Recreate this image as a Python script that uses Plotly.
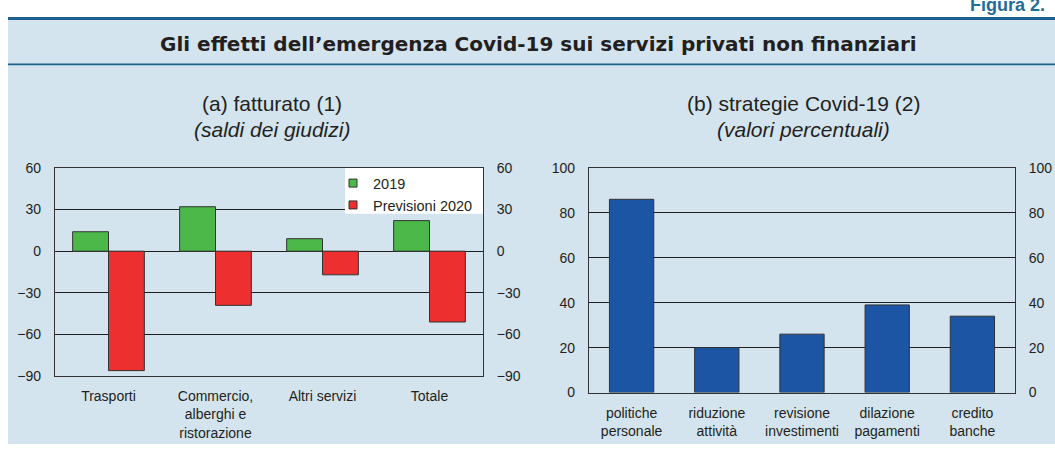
import plotly.graph_objects as go

# ---- data ----
cat_left = ["Trasporti", "Commercio,<br>alberghi e<br>ristorazione", "Altri servizi", "Totale"]
val_2019 = [14, 32, 9, 22]
val_2020 = [-86, -39, -17, -51]
left_ticks = [-90, -60, -30, 0, 30, 60]

cat_right = ["politiche<br>personale", "riduzione<br>attività", "revisione<br>investimenti",
             "dilazione<br>pagamenti", "credito<br>banche"]
val_right = [86, 20, 26, 39, 34]
right_ticks = [0, 20, 40, 60, 80, 100]

W, H = 1055, 452
def fx(p):
    return p / W
def fy(p):
    return 1 - p / H

# plot-area pixel boxes
L_X0, L_X1, L_Y0, L_Y1 = 55, 483, 165.7, 381.7
R_X0, R_X1, R_Y0, R_Y1 = 589, 1015, 165.7, 398.7

GREEN = "#4db84a"
RED = "#ee2f2f"
BLUE = "#1c55a3"
BG = "#d3e4ee"
EDGE = "#333333"
TXT = "#231f20"
RULE = "#1d5f8d"
FONT = "Liberation Sans, Arial, sans-serif"

fig = go.Figure()
fig.add_trace(go.Bar(x=cat_left, y=val_2019, name="2019", marker=dict(color=GREEN, line=dict(color=EDGE, width=1)),
                     xaxis="x", yaxis="y", showlegend=False, hoverinfo="skip"))
fig.add_trace(go.Bar(x=cat_left, y=val_2020, name="Previsioni 2020", marker=dict(color=RED, line=dict(color=EDGE, width=1)),
                     xaxis="x", yaxis="y", showlegend=False, hoverinfo="skip"))
# legend entries (square markers)
fig.add_trace(go.Scatter(x=[None], y=[None], mode="markers", name="2019",
                         marker=dict(symbol="square", size=8, color=GREEN, line=dict(color=EDGE, width=1)),
                         xaxis="x", yaxis="y"))
fig.add_trace(go.Scatter(x=[None], y=[None], mode="markers", name="Previsioni 2020",
                         marker=dict(symbol="square", size=8, color=RED, line=dict(color=EDGE, width=1)),
                         xaxis="x", yaxis="y"))
fig.add_trace(go.Bar(x=cat_right, y=val_right, width=0.52, marker=dict(color=BLUE, line=dict(color=EDGE, width=1)),
                     xaxis="x2", yaxis="y2", showlegend=False, hoverinfo="skip"))
# invisible helpers so the right-hand (mirror) axes are drawn
fig.add_trace(go.Scatter(x=cat_left, y=val_2019, mode="markers", marker=dict(opacity=0),
                         xaxis="x", yaxis="y3", showlegend=False, hoverinfo="skip"))
fig.add_trace(go.Scatter(x=cat_right, y=val_right, mode="markers", marker=dict(opacity=0),
                         xaxis="x2", yaxis="y4", showlegend=False, hoverinfo="skip"))

tickfont = dict(family=FONT, size=14, color=TXT)
common_y = dict(showgrid=True, gridcolor="#1e1e1e", gridwidth=1, zeroline=False,
                showline=True, linecolor=EDGE, linewidth=1.3, mirror=True,
                ticks="outside", ticklen=10, tickcolor="rgba(0,0,0,0)", tickfont=tickfont)
common_x = dict(showgrid=False, zeroline=False, showline=True, linecolor=EDGE, linewidth=1.3, mirror=True,
                ticks="outside", ticklen=7, tickcolor="rgba(0,0,0,0)", tickfont=tickfont, type="category")
right_y = dict(side="right", showgrid=False, zeroline=False, showline=False, ticks="outside", ticklen=10,
               tickcolor="rgba(0,0,0,0)", tickfont=tickfont)

fig.update_layout(
    width=W, height=H, margin=dict(l=0, r=0, t=0, b=0),
    paper_bgcolor="white", plot_bgcolor="white",
    barmode="group", bargap=0.33, bargroupgap=0,
    showlegend=True, hovermode=False,
    legend=dict(x=fx(333), y=fy(165), xanchor="left", yanchor="top", bgcolor="rgba(0,0,0,0)",
                font=dict(family=FONT, size=14.5, color=TXT), itemwidth=30, tracegroupgap=0),
    xaxis=dict(domain=[fx(L_X0), fx(L_X1)], anchor="y", **common_x),
    yaxis=dict(domain=[fy(L_Y1), fy(L_Y0)], anchor="x", range=[-90, 60], tickvals=left_ticks, **common_y),
    yaxis3=dict(overlaying="y", anchor="x", range=[-90, 60], tickvals=left_ticks, **right_y),
    xaxis2=dict(domain=[fx(R_X0), fx(R_X1)], anchor="y2", **common_x),
    yaxis2=dict(domain=[fy(R_Y1), fy(R_Y0)], anchor="x2", range=[0, 100], tickvals=right_ticks, **common_y),
    yaxis4=dict(overlaying="y2", anchor="x2", range=[0, 100], tickvals=right_ticks, **right_y),
)

# background panel and rules
fig.add_shape(type="rect", xref="paper", yref="paper", x0=fx(8), x1=1, y0=0, y1=fy(11),
              fillcolor=BG, line=dict(width=0), layer="below")
fig.add_shape(type="line", xref="paper", yref="paper", x0=fx(8), x1=1, y0=fy(11), y1=fy(11),
              line=dict(color=RULE, width=3))
fig.add_shape(type="line", xref="paper", yref="paper", x0=fx(8), x1=1, y0=fy(58.5), y1=fy(58.5),
              line=dict(color=RULE, width=1.8))
# white legend box hiding the grid line (between grid and bars)
fig.add_shape(type="rect", xref="x", yref="y", x0=2.21, x1=3.5, y0=27, y1=60,
              fillcolor="white", line=dict(width=0), layer="between")

fig.add_annotation(text="Figura 2.", xref="paper", yref="paper", x=fx(968), y=fy(-3),
                   xanchor="left", yanchor="middle", showarrow=False,
                   font=dict(family=FONT, size=18, color="#1f6c9b", weight="bold"))
fig.add_annotation(text="<b>Gli effetti dell’emergenza Covid-19 sui servizi privati non finanziari</b>",
                   xref="paper", yref="paper", x=fx(538), y=fy(37), xanchor="center", yanchor="middle",
                   showarrow=False, font=dict(family="DejaVu Sans, sans-serif", size=20, color=TXT))
for cx, l1, l2 in [(272, "(a) fatturato (1)", "(saldi dei giudizi)"),
                   (803, "(b) strategie Covid-19 (2)", "(valori percentuali)")]:
    fig.add_annotation(text=l1, xref="paper", yref="paper", x=fx(cx), y=fy(98.5), xanchor="center",
                       yanchor="middle", showarrow=False, font=dict(family=FONT, size=21, color=TXT))
    fig.add_annotation(text="<i>" + l2 + "</i>", xref="paper", yref="paper", x=fx(cx), y=fy(125.5),
                       xanchor="center", yanchor="middle", showarrow=False,
                       font=dict(family=FONT, size=21, color=TXT))

fig.write_html(
    "out.html", config={"displayModeBar": False},
    post_script=("document.documentElement.style.margin='0px';"
                 "document.documentElement.style.overflow='hidden';"
                 "document.body.style.margin='0px';"
                 "document.body.style.padding='0px';"
                 "document.body.style.overflow='hidden';"))
